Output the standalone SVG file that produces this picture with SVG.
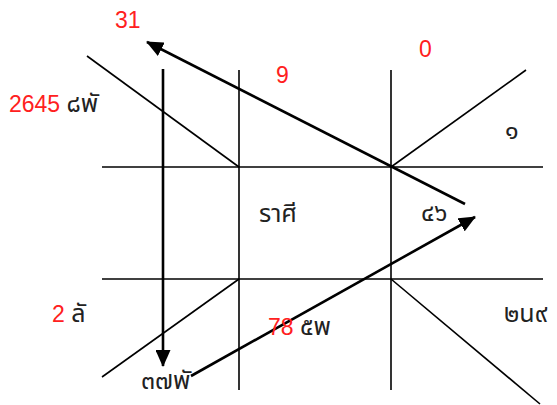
<svg xmlns="http://www.w3.org/2000/svg" width="557" height="405" viewBox="0 0 557 405">
<defs>
<marker id="ah" markerWidth="17" markerHeight="15" refX="16" refY="7.5" orient="auto" markerUnits="userSpaceOnUse">
<path d="M0,0 L17,7.5 L0,15 Z" fill="#000"/>
</marker>
<style>
.ln{stroke:#000;stroke-width:1.6;fill:none}
.ar{stroke:#000;stroke-width:2.6;fill:none;marker-end:url(#ah)}
text{font-family:"Liberation Sans","Noto Sans Thai","Noto Sans",sans-serif;font-size:23px}
.r{fill:#ff2020}
.k{fill:#222;font-size:25px}
</style>
</defs>
<g id="grid">
<line class="ln" x1="239" y1="70" x2="239" y2="390"/>
<line class="ln" x1="391" y1="70" x2="391" y2="390"/>
<line class="ln" x1="102" y1="167" x2="543" y2="167"/>
<line class="ln" x1="102" y1="279" x2="543" y2="279"/>
<line class="ln" x1="87" y1="56" x2="239" y2="167"/>
<line class="ln" x1="391" y1="167" x2="526" y2="70"/>
<line class="ln" x1="239" y1="279" x2="102" y2="377"/>
<line class="ln" x1="391" y1="279" x2="540" y2="404"/>
</g>
<g id="connectors">
<line class="ar" x1="465" y1="204" x2="147" y2="42"/>
<line class="ar" x1="163" y1="69" x2="163" y2="366"/>
<line class="ar" x1="191" y1="376" x2="475" y2="217"/>
</g>
<g id="n31"><text class="r" x="115" y="28">31</text></g>
<g id="n9"><text class="r" x="276" y="83">9</text></g>
<g id="n0"><text class="r" x="419" y="57">0</text></g>
<g id="n2645"><text x="9" y="112"><tspan class="r">2645</tspan> <tspan class="k">๘พั</tspan></text></g>
<g id="n1"><text class="k" x="505" y="139">๑</text></g>
<g id="nrasi"><text class="k" x="259" y="222">ราศี</text></g>
<g id="n46"><text class="k" x="421" y="221">๔๖</text></g>
<g id="n2"><text x="52" y="322"><tspan class="r">2</tspan> <tspan class="k">ลั</tspan></text></g>
<g id="n78"><text x="268" y="335"><tspan class="r">78</tspan> <tspan class="k">๕พ</tspan></text></g>
<g id="n2n9"><text class="k" x="504" y="322">๒น๙</text></g>
<g id="n37"><text class="k" x="141" y="389">๓๗พั</text></g>
</svg>
